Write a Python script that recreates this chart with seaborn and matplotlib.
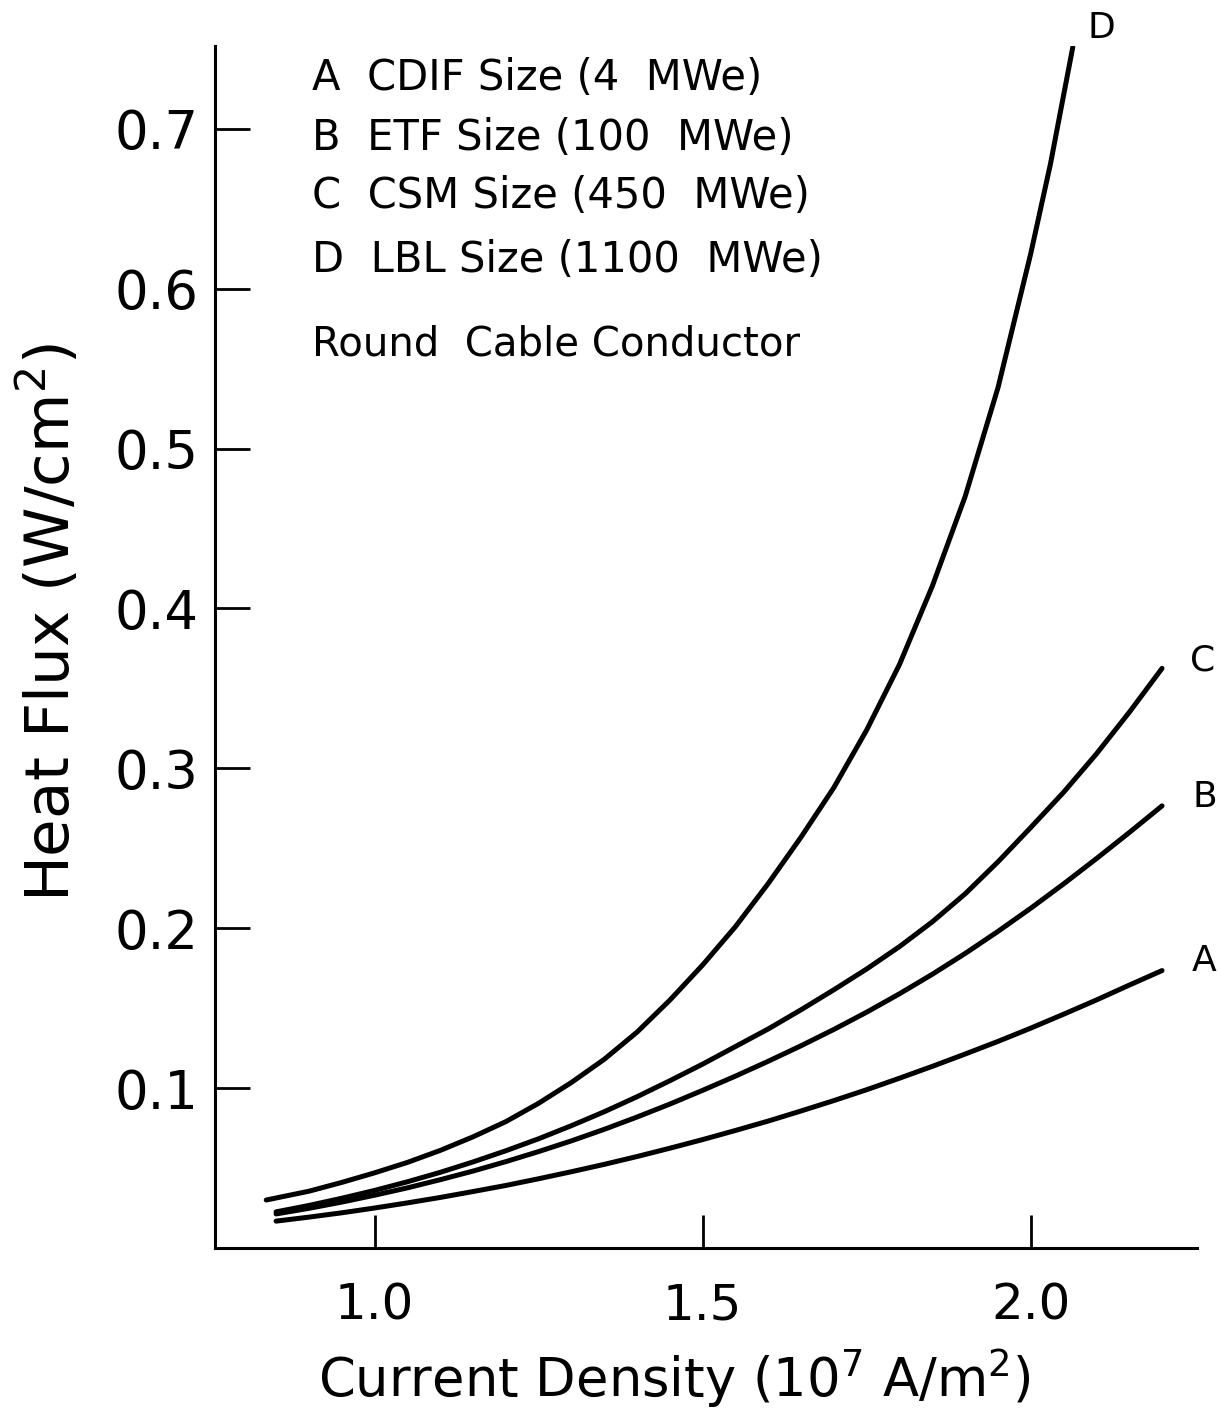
import matplotlib
matplotlib.use("Agg")
import matplotlib.pyplot as plt
import seaborn as sns
import numpy as np
import pandas as pd

# 数据: current density (10^7 A/m^2) vs heat flux (W/cm^2)
x_abc = [0.85, 0.90, 0.95, 1.00, 1.05, 1.10, 1.15, 1.20, 1.25, 1.30, 1.35, 1.40, 1.45, 1.50,
         1.55, 1.60, 1.65, 1.70, 1.75, 1.80, 1.85, 1.90, 1.95, 2.00, 2.05, 2.10, 2.15, 2.20]
flux_a = [0.0168, 0.0193, 0.0220, 0.0250, 0.0282, 0.0316, 0.0353, 0.0391, 0.0433, 0.0477,
          0.0523, 0.0572, 0.0624, 0.0678, 0.0735, 0.0794, 0.0857, 0.0922, 0.0990, 0.1062,
          0.1136, 0.1213, 0.1292, 0.1375, 0.1462, 0.1551, 0.1644, 0.1735]
flux_b = [0.0213, 0.0248, 0.0287, 0.0330, 0.0376, 0.0427, 0.0481, 0.0540, 0.0603, 0.0670,
          0.0742, 0.0819, 0.0900, 0.0986, 0.1075, 0.1168, 0.1265, 0.1367, 0.1475, 0.1590,
          0.1712, 0.1842, 0.1980, 0.2125, 0.2277, 0.2435, 0.2598, 0.2765]
flux_c = [0.0226, 0.0266, 0.0311, 0.0360, 0.0414, 0.0473, 0.0538, 0.0608, 0.0683, 0.0765,
          0.0852, 0.0946, 0.1046, 0.1150, 0.1260, 0.1370, 0.1490, 0.1615, 0.1745, 0.1885,
          0.2040, 0.2215, 0.2415, 0.2630, 0.2850, 0.3090, 0.3350, 0.3625]
x_d = [0.835, 0.90, 0.95, 1.00, 1.05, 1.10, 1.15, 1.20, 1.25, 1.30, 1.35, 1.40, 1.45, 1.50,
       1.55, 1.60, 1.65, 1.70, 1.75, 1.80, 1.85, 1.90, 1.95, 2.00, 2.03, 2.064]
flux_d = [0.030, 0.0355, 0.041, 0.047, 0.0535, 0.061, 0.0695, 0.079, 0.0905, 0.1035,
          0.118, 0.135, 0.155, 0.177, 0.201, 0.228, 0.257, 0.288, 0.324, 0.365,
          0.414, 0.470, 0.538, 0.622, 0.678, 0.751]

curve_names = ["A", "B", "C", "D"]
legend_lines = ["A  CDIF Size (4  MWe)",
                "B  ETF Size (100  MWe)",
                "C  CSM Size (450  MWe)",
                "D  LBL Size (1100  MWe)"]
note_text = "Round  Cable Conductor"
x_ticks = [1.0, 1.5, 2.0]
y_ticks = [0.1, 0.2, 0.3, 0.4, 0.5, 0.6, 0.7]

# long table for seaborn
frames = []
for name, xs, ys in zip(curve_names, [x_abc, x_abc, x_abc, x_d], [flux_a, flux_b, flux_c, flux_d]):
    frames.append(pd.DataFrame({"density": xs, "flux": ys, "curve": name}))
df = pd.concat(frames, ignore_index=True)

sns.set_theme(style="ticks")
plt.rcParams['font.family'] = ['DejaVu Sans']
plt.rcParams['text.color'] = 'black'
plt.rcParams['axes.labelcolor'] = 'black'

fig = plt.figure(figsize=(12.2, 14.24), dpi=100)
ax = fig.add_axes([0.176, 0.1236, 0.805, 0.8444])

sns.lineplot(data=df, x="density", y="flux", hue="curve", units="curve",
             estimator=None, sort=False, palette=["black"] * 4,
             linewidth=3.6, legend=False, solid_capstyle="round", ax=ax)

ax.set_xlim(0.7565, 2.253)
ax.set_ylim(0, 0.752)
ax.set_xticks(x_ticks)
ax.set_xticklabels(["1.0", "1.5", "2.0"])
ax.set_yticks(y_ticks)
ax.set_yticklabels(["0.1", "0.2", "0.3", "0.4", "0.5", "0.6", "0.7"])
ax.tick_params(axis="y", direction="in", length=25, width=2, pad=12, labelsize=38, colors="black")
ax.tick_params(axis="x", direction="in", length=24, width=2, pad=24, labelsize=36, colors="black")
for side in ["top", "right"]:
    ax.spines[side].set_visible(False)
for side in ["left", "bottom"]:
    ax.spines[side].set_linewidth(2.2)
    ax.spines[side].set_color("black")

ax.set_xlabel(r"Current Density ($\mathregular{10^7}$ A/m$\mathregular{^2}$)", fontsize=38, va="center")
ax.set_ylabel(r"Heat Flux (W/cm$\mathregular{^2}$)", fontsize=44, va="center")
ax.xaxis.set_label_coords(0.468, -0.108)
ax.yaxis.set_label_coords(-0.168, 0.52)

# letters at the ends of the curves
label_offsets = {"A": (42, 10), "B": (43, 9), "C": (41, 8), "D": (29, 19)}
for name, xs, ys in zip(curve_names, [x_abc, x_abc, x_abc, x_d], [flux_a, flux_b, flux_c, flux_d]):
    ax.annotate(name, xy=(xs[-1], ys[-1]), xytext=label_offsets[name],
                textcoords="offset pixels", ha="center", va="center", fontsize=26)

# legend block
legend_y = [78, 138, 196, 260]
for txt, ypix in zip(legend_lines, legend_y):
    fig.text(312 / 1220, 1 - ypix / 1424, txt, fontsize=30, ha="left", va="center")
fig.text(312 / 1220, 1 - 345 / 1424, note_text, fontsize=29, ha="left", va="center")

plt.savefig("out.png", dpi=100)
